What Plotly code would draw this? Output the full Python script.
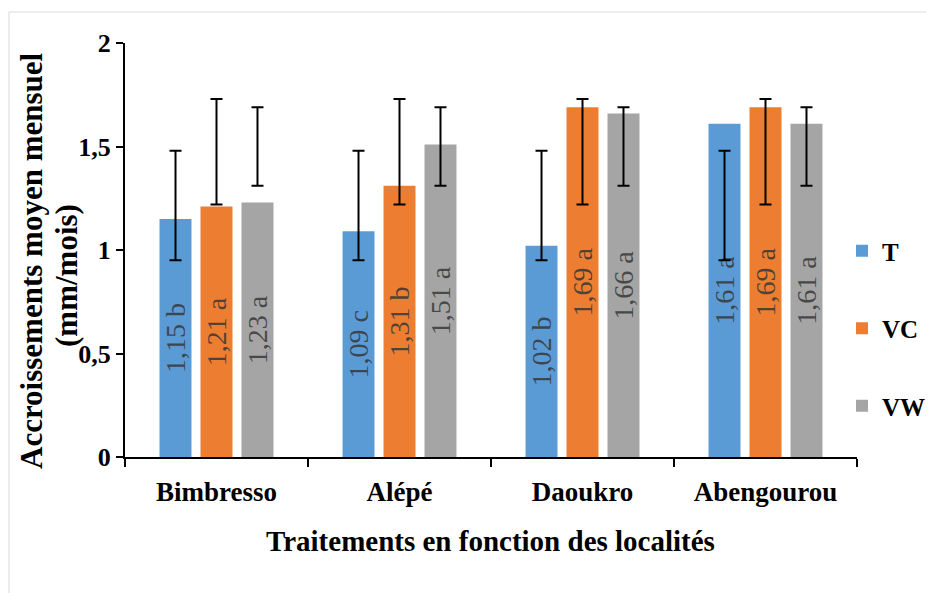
import plotly.graph_objects as go

# ---- data ----
localites = ["Bimbresso", "Alépé", "Daoukro", "Abengourou"]
series_names = ["T", "VC", "VW"]
values_T = [1.15, 1.09, 1.02, 1.61]
values_VC = [1.21, 1.31, 1.69, 1.69]
values_VW = [1.23, 1.51, 1.66, 1.61]
letters_T = ["b", "c", "b", "a"]
letters_VC = ["a", "b", "a", "a"]
letters_VW = ["a", "a", "a", "a"]
# error bar extents (low / high) as drawn in the source chart
err_low_T = [0.95, 0.95, 0.95, 0.95]
err_high_T = [1.48, 1.48, 1.48, 1.48]
err_low_VC = [1.22, 1.22, 1.22, 1.22]
err_high_VC = [1.73, 1.73, 1.73, 1.73]
err_low_VW = [1.31, 1.31, 1.31, 1.31]
err_high_VW = [1.69, 1.69, 1.69, 1.69]
y_ticks = [0, 0.5, 1, 1.5, 2]

colors = {"T": "#5B9BD5", "VC": "#ED7D31", "VW": "#A5A5A5"}
SERIF = "Liberation Serif"

# target plot-area location on screen (page has an 8px body margin)
OFF = 8
L, R, T, B = 125, 857, 43, 457
PW, PH = R - L, B - T


def px_x(x):
    return (x - L) / PW


def px_y(y):
    return (B - y) / PH


series = [
    ("T", values_T, letters_T, err_low_T, err_high_T),
    ("VC", values_VC, letters_VC, err_low_VC, err_high_VC),
    ("VW", values_VW, letters_VW, err_low_VW, err_high_VW),
]

label_font = dict(family=SERIF, size=28, color="rgba(55,55,55,0.85)")

fig = go.Figure()
for name, vals, lets, lo, hi in series:
    labels = [f"{v:.2f}".replace(".", ",") + " " + l for v, l in zip(vals, lets)]
    fig.add_trace(go.Bar(
        name=name, x=localites, y=vals, offsetgroup=name, legendgroup=name,
        marker=dict(color=colors[name], line=dict(width=0)),
        text=labels, textposition="inside", insidetextanchor="middle",
        textangle=-90, constraintext="none",
        textfont=label_font, insidetextfont=label_font,
        hoverinfo="x+y",
    ))

for name, vals, lets, lo, hi in series:
    mid = [(a + b) / 2 for a, b in zip(lo, hi)]
    half = [(b - a) / 2 for a, b in zip(lo, hi)]
    fig.add_trace(go.Bar(
        x=localites, y=mid, offsetgroup=name, showlegend=False,
        marker=dict(color="rgba(0,0,0,0)", line=dict(width=0)),
        error_y=dict(type="data", array=half, symmetric=True,
                     color="black", thickness=2, width=6),
        hoverinfo="skip",
    ))

fig.update_layout(
    width=934, height=593,
    margin=dict(l=L - OFF, r=934 - (R - OFF), t=T - OFF, b=593 - (B - OFF),
                autoexpand=False),
    paper_bgcolor="white", plot_bgcolor="white",
    barmode="group", bargap=0.328, bargroupgap=0.22,
    separators=", ",
    showlegend=True,
    legend=dict(x=px_x(842), xanchor="left", y=px_y(228), yanchor="top",
                font=dict(family=SERIF, size=25, color="black", weight="bold"),
                tracegroupgap=42, traceorder="grouped",
                bgcolor="rgba(0,0,0,0)"),
    font=dict(family=SERIF, color="black"),
)

fig.update_xaxes(
    showline=True, linecolor="black", linewidth=2,
    ticks="outside", tickson="boundaries", ticklen=8, tickwidth=2, tickcolor="black",
    tickfont=dict(family=SERIF, size=27, color="black", weight="bold"),
    ticklabelstandoff=10,
    showgrid=False,
)
fig.update_yaxes(
    range=[0, 2], tickvals=y_ticks,
    showline=True, linecolor="black", linewidth=2,
    ticks="outside", ticklen=7, tickwidth=2, tickcolor="black",
    tickfont=dict(family=SERIF, size=26, color="black", weight="bold"),
    showgrid=False, zeroline=False,
)

# axis titles as annotations
fig.add_annotation(text="Traitements en fonction des localités", xref="paper", yref="paper",
                   x=px_x(490), y=px_y(541), xanchor="center", yanchor="middle", showarrow=False,
                   font=dict(family=SERIF, size=29, color="black", weight="bold"))
fig.add_annotation(text="Accroissements moyen mensuel", xref="paper", yref="paper",
                   x=px_x(31), y=px_y(261), xanchor="center", yanchor="middle",
                   textangle=-90, showarrow=False,
                   font=dict(family=SERIF, size=31, color="black", weight="bold"))
fig.add_annotation(text="(mm/mois)", xref="paper", yref="paper",
                   x=px_x(66), y=px_y(275), xanchor="center", yanchor="middle",
                   textangle=-90, showarrow=False,
                   font=dict(family=SERIF, size=31, color="black", weight="bold"))

# outer chart frame
fig.add_shape(type="rect", xref="paper", yref="paper",
              x0=px_x(9), x1=px_x(950), y0=px_y(610), y1=px_y(12),
              line=dict(color="#d9d9d9", width=1), fillcolor="rgba(0,0,0,0)", layer="below")

fig.write_html("out.html")
